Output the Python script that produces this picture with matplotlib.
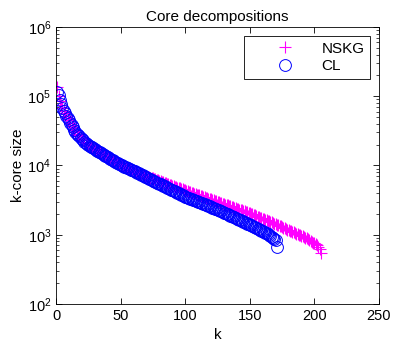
import matplotlib
matplotlib.use("Agg")
import matplotlib.pyplot as plt
import numpy as np

plt.rcParams['font.family'] = ['Liberation Sans', 'DejaVu Sans']

# k-core sizes, one value per k (k = 1, 2, ...)
nskg = [
    135000, 100000, 85000, 75000, 67600, 61700, 56900, 52500, 48400, 44700,
    41200, 38000, 35500, 33100, 30900, 28800, 27500, 26300, 25100, 24000,
    23000, 22100, 21300, 20600, 20000, 19400, 18800, 18200, 17700, 17200,
    16700, 16300, 15800, 15500, 15000, 14700, 14300, 13900, 13600, 13200,
    12900, 12500, 12200, 11900, 11600, 11300, 11000, 10800, 10500, 10200,
    10000, 9840, 9640, 9440, 9270, 9080, 8890, 8730, 8550, 8380,
    8220, 8050, 7890, 7740, 7590, 7470, 7360, 7240, 7130, 7020,
    6920, 6810, 6700, 6590, 6500, 6400, 6300, 6190, 6110, 6010,
    5920, 5820, 5740, 5650, 5560, 5470, 5380, 5300, 5210, 5130,
    5050, 4970, 4890, 4810, 4730, 4660, 4580, 4510, 4440, 4370,
    4300, 4240, 4170, 4110, 4050, 3990, 3930, 3870, 3810, 3750,
    3700, 3640, 3590, 3530, 3480, 3430, 3380, 3330, 3280, 3230,
    3180, 3130, 3080, 3040, 2990, 2950, 2900, 2860, 2820, 2780,
    2730, 2690, 2650, 2610, 2570, 2530, 2490, 2450, 2420, 2380,
    2340, 2310, 2270, 2240, 2200, 2170, 2140, 2100, 2070, 2040,
    2010, 1970, 1940, 1900, 1870, 1830, 1800, 1770, 1740, 1710,
    1680, 1650, 1620, 1590, 1560, 1530, 1510, 1480, 1450, 1420,
    1400, 1370, 1340, 1320, 1290, 1260, 1240, 1220, 1190, 1170,
    1150, 1130, 1100, 1080, 1060, 1040, 1020, 1000, 982, 964,
    944, 927, 908, 891, 865, 841, 817, 794, 771, 750,
    728, 708, 676, 631, 537,
]

cl = [
    115000, 105000, 88000, 77000, 67600, 61700, 56900, 52500, 48400, 44700,
    41200, 38000, 35500, 33100, 30900, 28800, 27500, 26300, 25100, 24000,
    23000, 22100, 21300, 20600, 20000, 19400, 18800, 18200, 17700, 17200,
    16700, 16300, 15800, 15500, 15000, 14700, 14300, 13900, 13600, 13200,
    12900, 12500, 12200, 11900, 11600, 11300, 11000, 10800, 10500, 10200,
    10000, 9840, 9640, 9440, 9270, 9080, 8890, 8730, 8550, 8380,
    8200, 8020, 7850, 7670, 7520, 7350, 7190, 7030, 6890, 6730,
    6590, 6440, 6310, 6180, 6050, 5920, 5800, 5680, 5560, 5450,
    5330, 5220, 5110, 5000, 4900, 4800, 4700, 4590, 4500, 4400,
    4310, 4220, 4130, 4040, 3950, 3870, 3790, 3710, 3630, 3550,
    3490, 3430, 3370, 3320, 3260, 3210, 3150, 3100, 3050, 3000,
    2950, 2900, 2850, 2800, 2750, 2700, 2650, 2600, 2560, 2510,
    2470, 2420, 2380, 2340, 2300, 2250, 2220, 2180, 2140, 2090,
    2050, 2010, 1970, 1930, 1890, 1850, 1820, 1780, 1740, 1710,
    1670, 1640, 1610, 1570, 1540, 1510, 1480, 1450, 1420, 1390,
    1360, 1340, 1310, 1290, 1260, 1230, 1200, 1170, 1150, 1120,
    1100, 1070, 1050, 1020, 1000, 968, 938, 908, 879, 851,
    661,
]

k_nskg = np.arange(1, len(nskg) + 1)
k_cl = np.arange(1, len(cl) + 1)

magenta = '#FF00FF'
blue = '#0000FF'

fig = plt.figure(figsize=(4.19, 3.49), dpi=100)
ax = fig.add_axes([0.1337, 0.129, 0.7708, 0.7936])

ax.plot(k_nskg, nskg, linestyle='none', marker='+', color=magenta,
        markeredgecolor=magenta, markersize=9, markeredgewidth=0.8, label='NSKG')
ax.plot(k_cl, cl, linestyle='none', marker='o', color=blue, markeredgecolor=blue,
        markerfacecolor='none', markersize=8.5, markeredgewidth=0.7, label='CL')

ax.set_yscale('log')
ax.set_xlim(0, 250)
ax.set_ylim(1e2, 1e6)
ax.set_xticks([0, 50, 100, 150, 200, 250])

ax.tick_params(which='both', direction='in', top=True, right=True, labelsize=10.5)
ax.tick_params(which='major', length=4, width=0.6)
ax.tick_params(which='minor', length=2, width=0.5)
for s in ax.spines.values():
    s.set_linewidth(0.6)

ax.set_xlabel('k', fontsize=11, labelpad=4)
ax.set_ylabel('k-core size', fontsize=11, labelpad=2)
ax.set_title('Core decompositions', fontsize=11, pad=4)

leg = ax.legend(loc='upper right', fontsize=11, fancybox=False, edgecolor='black',
                borderaxespad=0.6, handlelength=4.6, handletextpad=0.1,
                borderpad=0.35, labelspacing=0.25, framealpha=1)
leg.get_frame().set_linewidth(0.6)

fig.savefig('out.png', dpi=100)
